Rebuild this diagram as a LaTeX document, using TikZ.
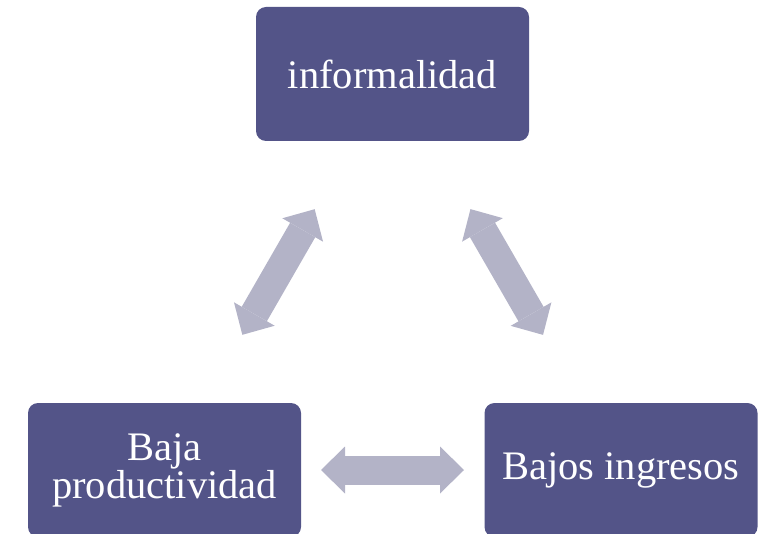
\documentclass[tikz,border=0pt]{standalone}
\usepackage{fontspec}
\setmainfont{Liberation Serif}
\usetikzlibrary{arrows.meta}
\definecolor{boxfill}{RGB}{83,84,136}
\definecolor{arrowfill}{RGB}{179,179,199}
\tikzset{
  box/.style={rectangle, rounded corners=10pt, fill=boxfill, draw=none,
    minimum width=273pt, minimum height=134pt, inner sep=0pt,
    text=white, align=center, font=\fontsize{40.5}{38}\selectfont},
  dbl/.style={draw=arrowfill, line width=29pt,
    {Triangle[length=24pt,width=47pt,line width=0pt]}-{Triangle[length=24pt,width=47pt,line width=0pt]}}
}
\begin{document}
\begin{tikzpicture}[x=1pt,y=-1pt]
\useasboundingbox (0,0) rectangle (770,534);
\node[box] (inf) at (392.5,74) {informalidad};
\node[box] (baja) at (164.5,470) {Baja\\productividad};
\node[box] (ing) at (621,470) {Bajos ingresos};
\draw[dbl, shorten <=156pt, shorten >=156pt] (baja.center) -- (inf.center);
\draw[dbl, shorten <=156pt, shorten >=156pt] (inf.center) -- (ing.center);
\draw[dbl, shorten <=156.5pt, shorten >=157pt] (baja.center) -- (ing.center);
\end{tikzpicture}
\end{document}
